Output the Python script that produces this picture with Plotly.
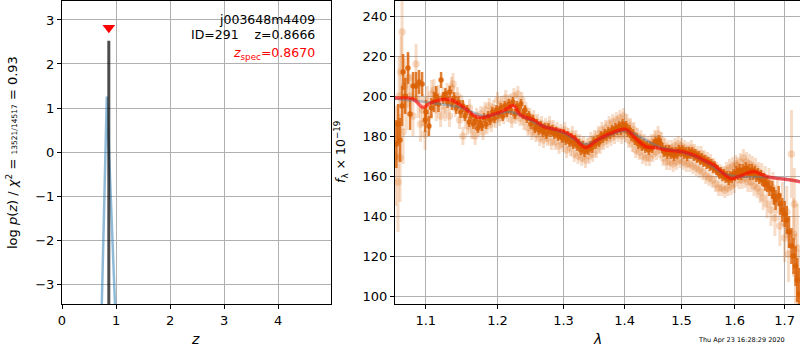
import plotly.graph_objects as go
import math

# ---------------- left panel: redshift PDF ----------------
pz_z = [0.70, 0.83, 1.00]
pz_logp = [-5.3, 1.26, -4.05]
spike_z = [0.8666, 0.8666]
spike_logp = [-6.0, 2.53]
zspec = 0.8670
zspec_marker_y = 2.82

# ---------------- right panel: spectrum ----------------
dark_lam = [1.0615, 1.0636, 1.0662, 1.0688, 1.0701, 1.0730, 1.0765, 1.0792, 1.0832, 1.0871,
            1.0911, 1.0951, 1.0992, 1.1003, 1.1042, 1.1075, 1.1111, 1.1140, 1.1170, 1.1206,
            1.1235, 1.1265, 1.1295, 1.1325, 1.1355, 1.1385, 1.1415, 1.1445, 1.1475, 1.1505,
            1.1535, 1.1565, 1.1595, 1.1625, 1.1655, 1.1685, 1.1715, 1.1745, 1.1775, 1.1805,
            1.1835, 1.1865, 1.1895, 1.1925, 1.1955, 1.1985, 1.2015, 1.2045, 1.2075, 1.2105,
            1.2135, 1.2165, 1.2195, 1.2225, 1.2255, 1.2285, 1.2315, 1.2345, 1.2375, 1.2405,
            1.2435, 1.2465, 1.2495, 1.2525, 1.2555, 1.2585, 1.2615, 1.2645, 1.2675, 1.2705,
            1.2735, 1.2765, 1.2795, 1.2825, 1.2855, 1.2885, 1.2915, 1.2945, 1.2975, 1.3005,
            1.3035, 1.3065, 1.3095, 1.3125, 1.3155, 1.3185, 1.3215, 1.3245, 1.3275, 1.3305,
            1.3335, 1.3365, 1.3395, 1.3425, 1.3455, 1.3485, 1.3515, 1.3545, 1.3575, 1.3605,
            1.3635, 1.3665, 1.3695, 1.3725, 1.3755, 1.3785, 1.3815, 1.3845, 1.3875, 1.3905,
            1.3935, 1.3965, 1.3995, 1.4025, 1.4055, 1.4085, 1.4115, 1.4145, 1.4175, 1.4205,
            1.4235, 1.4265, 1.4295, 1.4325, 1.4355, 1.4385, 1.4415, 1.4445, 1.4475, 1.4505,
            1.4535, 1.4565, 1.4595, 1.4625, 1.4655, 1.4685, 1.4715, 1.4745, 1.4775, 1.4805,
            1.4835, 1.4865, 1.4895, 1.4925, 1.4955, 1.4985, 1.5015, 1.5045, 1.5075, 1.5105,
            1.5135, 1.5165, 1.5195, 1.5225, 1.5255, 1.5285, 1.5315, 1.5345, 1.5375, 1.5405,
            1.5435, 1.5465, 1.5495, 1.5525, 1.5555, 1.5585, 1.5615, 1.5645, 1.5675, 1.5705,
            1.5735, 1.5765, 1.5795, 1.5825, 1.5855, 1.5885, 1.5915, 1.5945, 1.5975, 1.6005,
            1.6035, 1.6065, 1.6095, 1.6125, 1.6155, 1.6185, 1.6215, 1.6245, 1.6275, 1.6305,
            1.6335, 1.6365, 1.6395, 1.6425, 1.6455, 1.6485, 1.6515, 1.6545, 1.6575, 1.6605,
            1.6645, 1.6690, 1.6747, 1.6780, 1.6814, 1.6876, 1.6910, 1.6952, 1.7000, 1.7043,
            1.7090, 1.7140, 1.7182, 1.7226, 1.7261, 1.7299]
dark_flux = [176, 186, 178, 195, 212, 200, 214, 191, 205, 205,
             207, 206, 188, 192, 185, 194, 197, 200, 196, 208,
             199, 201, 197, 202, 196, 199, 194, 197, 192, 195,
             190, 193, 187, 190, 186, 188, 184, 187, 185, 189,
             186, 190, 188, 192, 189, 193, 191, 194, 190, 195,
             192, 196, 193, 197, 191, 195, 193, 196, 191, 193,
             189, 190, 186, 188, 184, 186, 183, 185, 182, 184,
             181, 184, 182, 183, 181, 182, 180, 181, 179, 181,
             178, 180, 177, 179, 176, 178, 175, 176, 173, 175,
             172, 174, 173, 175, 174, 177, 176, 178, 177, 180,
             179, 181, 180, 182, 181, 183, 182, 184, 183, 185,
             183, 186, 184, 185, 182, 183, 180, 181, 178, 179,
             176, 177, 175, 176, 174, 175, 173, 175, 174, 176,
             177, 176, 178, 176, 174, 172, 173, 171, 173, 171,
             172, 170, 172, 171, 173, 172, 173, 171, 172, 170,
             172, 171, 172, 170, 171, 169, 170, 168, 169, 167,
             168, 166, 167, 165, 166, 164, 165, 163, 163, 161,
             162, 160, 161, 159, 160, 158, 160, 159, 161, 160,
             162, 161, 163, 161, 163, 162, 164, 162, 163, 161,
             163, 161, 162, 160, 161, 159, 160, 158, 158, 156,
             156, 154, 153, 150, 148, 150, 146, 143, 141, 138,
             132, 125, 120, 115, 108, 101]
dark_err = [12, 10, 11, 10, 9, 9, 8, 8, 7, 7,
            6, 6, 6, 6, 5, 5, 5, 5, 4, 4,
            3, 3, 3, 3, 3, 3, 3, 3, 3, 3,
            2.5, 2.5, 2.5, 2.5, 2.5, 2.5, 2.5, 2.5, 2.5, 2.5,
            2.5, 2.5, 2.5, 2.5, 2.5, 2.5, 2.5, 2.5, 2.5, 2.5,
            2.5, 2.5, 2.5, 2.5, 2.5, 2.5, 2.5, 2.5, 2.5, 2.5,
            2.5, 2.5, 2.5, 2.5, 2.5, 2.5, 2.5, 2.5, 2.5, 2.5,
            2.5, 2.5, 2.5, 2.5, 2.5, 2.5, 2.5, 2.5, 2.5, 2.5,
            2.5, 2.5, 2.5, 2.5, 2.5, 2.5, 2.5, 2.5, 2.5, 2.5,
            2.5, 2.5, 2.5, 2.5, 2.5, 2.5, 2.5, 2.5, 2.5, 2.5,
            2.5, 2.5, 2.5, 2.5, 2.5, 2.5, 2.5, 2.5, 2.5, 2.5,
            2.5, 2.5, 2.5, 2.5, 2.5, 2.5, 2.5, 2.5, 2.5, 2.5,
            2.5, 2.5, 2.5, 2.5, 2.5, 2.5, 2.5, 2.5, 2.5, 2.5,
            2.5, 2.5, 2.5, 2.5, 2.5, 2.5, 2.5, 2.5, 2.5, 2.5,
            2.5, 2.5, 2.5, 2.5, 2.5, 2.5, 2.5, 2.5, 2.5, 2.5,
            2.5, 2.5, 2.5, 2.5, 2.5, 2.5, 2.5, 2.5, 2.5, 2.5,
            2.5, 2.5, 2.5, 2.5, 2.5, 2.5, 2.5, 2.5, 2.5, 2.5,
            2.5, 2.5, 2.5, 2.5, 2.5, 2.5, 2.5, 2.5, 2.5, 2.5,
            3, 3, 3, 3, 3, 3, 3, 3, 3, 3,
            3, 3, 3, 3, 3, 3, 3, 3, 3.5, 3.5,
            4, 4, 4.5, 4.5, 5, 5, 5.5, 6, 6.5, 7,
            8, 9, 9, 10, 11, 13]

light_lam = [1.0605, 1.0636, 1.0650, 1.0662, 1.0675, 1.0688, 1.0701, 1.0720, 1.0745, 1.0770,
             1.0800, 1.0830, 1.0871, 1.0900, 1.0930, 1.0960, 1.0990, 1.1020, 1.1050, 1.1080,
             1.1111, 1.1140, 1.1170, 1.1200, 1.1230, 1.1260, 1.1290, 1.1320, 1.1350, 1.1370,
             1.1400, 1.1430, 1.1460, 1.1490, 1.1508, 1.1540, 1.1570, 1.1600, 1.1630, 1.1678,
             1.1700, 1.1730, 1.1760, 1.1790, 1.1820, 1.1850, 1.1880, 1.1910, 1.1940, 1.1970,
             1.2000, 1.2030, 1.2060, 1.2090, 1.2120, 1.2150, 1.2180, 1.2210, 1.2240, 1.2270,
             1.2300, 1.2330, 1.2360, 1.2390, 1.2420, 1.2450, 1.2480, 1.2510, 1.2540, 1.2570,
             1.2600, 1.2630, 1.2660, 1.2690, 1.2720, 1.2750, 1.2780, 1.2810, 1.2840, 1.2870,
             1.2900, 1.2930, 1.2960, 1.2990, 1.3020, 1.3050, 1.3080, 1.3110, 1.3140, 1.3170,
             1.3200, 1.3230, 1.3260, 1.3290, 1.3320, 1.3350, 1.3380, 1.3410, 1.3440, 1.3470,
             1.3500, 1.3530, 1.3560, 1.3590, 1.3620, 1.3650, 1.3680, 1.3710, 1.3740, 1.3770,
             1.3800, 1.3830, 1.3860, 1.3890, 1.3920, 1.3950, 1.3980, 1.4010, 1.4040, 1.4070,
             1.4100, 1.4130, 1.4160, 1.4190, 1.4220, 1.4250, 1.4280, 1.4310, 1.4340, 1.4370,
             1.4400, 1.4430, 1.4460, 1.4490, 1.4520, 1.4550, 1.4580, 1.4610, 1.4640, 1.4670,
             1.4700, 1.4730, 1.4760, 1.4790, 1.4820, 1.4850, 1.4880, 1.4910, 1.4940, 1.4970,
             1.5000, 1.5030, 1.5060, 1.5090, 1.5120, 1.5150, 1.5180, 1.5210, 1.5240, 1.5270,
             1.5300, 1.5330, 1.5360, 1.5390, 1.5420, 1.5450, 1.5480, 1.5510, 1.5540, 1.5570,
             1.5600, 1.5630, 1.5660, 1.5690, 1.5720, 1.5750, 1.5780, 1.5810, 1.5840, 1.5870,
             1.5900, 1.5930, 1.5960, 1.5990, 1.6020, 1.6049, 1.6080, 1.6110, 1.6140, 1.6170,
             1.6200, 1.6230, 1.6260, 1.6290, 1.6320, 1.6350, 1.6380, 1.6410, 1.6440, 1.6470,
             1.6500, 1.6530, 1.6560, 1.6600, 1.6640, 1.6680, 1.6720, 1.6760, 1.6800, 1.6850,
             1.6900, 1.6952, 1.7000, 1.7043, 1.7080, 1.7140, 1.7182, 1.7200, 1.7226, 1.7261,
             1.7299]
light_flux = [170, 157, 200, 169, 212, 232, 182, 205, 196, 209,
              200, 190, 216, 198, 186, 193, 181, 198, 190, 201,
              203, 193, 200, 190, 199, 193, 201, 190, 204, 206,
              194, 200, 188, 196, 180, 191, 185, 194, 183, 180,
              190, 184, 191, 182, 193, 185, 195, 186, 194, 188,
              198, 189, 196, 190, 199, 191, 197, 188, 200, 190,
              201, 189, 198, 187, 193, 184, 190, 182, 189, 181,
              187, 179, 186, 178, 185, 179, 186, 177, 184, 177,
              183, 175, 182, 176, 183, 173, 180, 174, 181, 171,
              179, 170, 177, 169, 176, 168, 175, 170, 178, 171,
              179, 173, 181, 175, 183, 177, 184, 178, 186, 179,
              187, 180, 188, 181, 189, 180, 190, 181, 187, 178,
              185, 176, 183, 173, 180, 172, 179, 170, 177, 169,
              176, 169, 177, 171, 179, 172, 181, 173, 178, 169,
              175, 167, 174, 167, 174, 166, 175, 167, 176, 168,
              175, 167, 174, 166, 173, 166, 174, 165, 172, 164,
              171, 163, 171, 162, 169, 160, 168, 159, 167, 158,
              165, 156, 163, 154, 162, 154, 161, 153, 163, 154,
              164, 155, 165, 156, 166, 165, 158, 167, 158, 169,
              159, 167, 157, 166, 157, 165, 155, 164, 154, 162,
              152, 161, 149, 159, 146, 157, 143, 154, 139, 150,
              135, 146, 129, 142, 121, 171, 131, 146, 111, 124,
              98]
light_err = [25, 25, 20, 22, 18, 18, 16, 14, 13, 12,
             11, 10, 10, 9, 9, 8, 8, 7, 7, 7,
             5.5, 5.5, 5.5, 5.5, 5.5, 5.5, 5.5, 5.5, 5.5, 5.5,
             4.5, 4.5, 4.5, 4.5, 4.5, 4.5, 4.5, 4.5, 4.5, 4.5,
             4, 4, 4, 4, 4, 4, 4, 4, 4, 4,
             4, 4, 4, 4, 4, 4, 4, 4, 4, 4,
             4, 4, 4, 4, 4, 4, 4, 4, 4, 4,
             4, 4, 4, 4, 4, 4, 4, 4, 4, 4,
             4, 4, 4, 4, 4, 4, 4, 4, 4, 4,
             4, 4, 4, 4, 4, 4, 4, 4, 4, 4,
             4, 4, 4, 4, 4, 4, 4, 4, 4, 4,
             4, 4, 4, 4, 4, 4, 4, 4, 4, 4,
             4, 4, 4, 4, 4, 4, 4, 4, 4, 4,
             4, 4, 4, 4, 4, 4, 4, 4, 4, 4,
             4, 4, 4, 4, 4, 4, 4, 4, 4, 4,
             4, 4, 4, 4, 4, 4, 4, 4, 4, 4,
             4, 4, 4, 4, 4, 4, 4, 4, 4, 4,
             4, 4, 4, 4, 4, 4, 4, 4, 4, 4,
             4.5, 4.5, 4.5, 4.5, 4.5, 4.5, 4.5, 4.5, 4.5, 4.5,
             5, 5, 5, 5, 5, 5, 5, 5, 5, 5,
             5.5, 5.5, 6, 6, 7, 7, 8, 8, 9, 9,
             10, 11, 12, 13, 14, 22, 18, 18, 20, 22,
             25]

model_lam = [1.050, 1.060, 1.083, 1.0965, 1.106, 1.123, 1.137, 1.151, 1.169, 1.179,
             1.194, 1.208, 1.2235, 1.2336, 1.2537, 1.269, 1.2796, 1.300, 1.3157, 1.335,
             1.3544, 1.3765, 1.4019, 1.4189, 1.4364, 1.454, 1.4717, 1.502, 1.5266, 1.5409,
             1.5598, 1.5919, 1.6049, 1.6377, 1.6511, 1.6712, 1.7058, 1.7299, 1.740]
model_flux = [199, 199, 198.5, 194.3, 196.5, 198.3, 197.7, 194.5, 189.7, 189.3,
              190.8, 192.5, 195.2, 190.5, 188, 184.7, 183.8, 182.2, 179.5, 174.3,
              178, 181.3, 183.3, 178.8, 174.7, 174.2, 173, 172.2, 170, 168,
              165.5, 158.8, 159.5, 162.2, 161, 159.3, 158.3, 157.2, 156.8]

cont_lam = [1.05, 1.10, 1.15, 1.18, 1.22, 1.26, 1.30, 1.335, 1.37, 1.40,
            1.43, 1.46, 1.50, 1.54, 1.58, 1.62, 1.66, 1.70, 1.74]
cont_flux = [199, 197, 194, 190, 192, 186, 181.5, 176, 180, 182.5,
             179, 174.5, 172, 168, 161, 159.5, 159.5, 158.5, 157]

lam_ticks = [1.1, 1.2, 1.3, 1.4, 1.5, 1.6, 1.7]
flux_ticks = [100, 120, 140, 160, 180, 200, 220, 240]
z_ticks = [0, 1, 2, 3, 4]
logp_ticks = [-3, -2, -1, 0, 1, 2, 3]

ORANGE = "217,95,2"
FONT = "DejaVu Sans"
GRID = "#b0b0b0"

fig = go.Figure()

# left panel
fig.add_trace(go.Scatter(x=pz_z, y=pz_logp, mode="lines",
                         line=dict(color="rgba(31,119,180,0.5)", width=2.5),
                         xaxis="x", yaxis="y", showlegend=False))
fig.add_trace(go.Scatter(x=spike_z, y=spike_logp, mode="lines",
                         line=dict(color="rgba(0,0,0,0.7)", width=3),
                         xaxis="x", yaxis="y", showlegend=False))
fig.add_trace(go.Scatter(x=[zspec], y=[zspec_marker_y], mode="markers",
                         marker=dict(symbol="triangle-down", color="red", size=11),
                         xaxis="x", yaxis="y", showlegend=False))

# right panel
fig.add_trace(go.Scatter(x=light_lam, y=light_flux, mode="markers",
                         marker=dict(color=f"rgba({ORANGE},0.22)", size=7.5),
                         error_y=dict(type="data", array=light_err, visible=True,
                                      color=f"rgba({ORANGE},0.22)", thickness=3, width=0),
                         xaxis="x2", yaxis="y2", showlegend=False))
fig.add_trace(go.Scatter(x=dark_lam, y=dark_flux, mode="markers",
                         marker=dict(color=f"rgba({ORANGE},0.85)", size=5.5),
                         error_y=dict(type="data", array=dark_err, visible=True,
                                      color=f"rgba({ORANGE},0.8)", thickness=2.5, width=0),
                         xaxis="x2", yaxis="y2", showlegend=False))
fig.add_trace(go.Scatter(x=cont_lam, y=cont_flux, mode="lines", line_shape="spline",
                         line=dict(color="rgba(70,130,180,0.4)", width=2.5),
                         xaxis="x2", yaxis="y2", showlegend=False))
fig.add_trace(go.Scatter(x=model_lam, y=model_flux, mode="lines", line_shape="spline",
                         line=dict(color="rgba(255,0,0,0.6)", width=3.5),
                         xaxis="x2", yaxis="y2", showlegend=False))

axis_common = dict(showline=True, linecolor="black", linewidth=1, mirror=True,
                   ticks="outside", ticklen=4, tickcolor="black", automargin=False,
                   showgrid=True, gridcolor=GRID, gridwidth=1, zeroline=False,
                   tickfont=dict(family=FONT, size=13, color="black"))

left_dom = [0, 269 / 738]
right_dom = [333 / 738, 1]
PH = 303.0
PW = 738.0


def px_x(p):
    return (p - 62) / PW


def px_y(q):
    return (304 - q) / PH


fig.update_layout(
    width=800, height=350,
    margin=dict(l=62, r=0, t=1, b=46),
    paper_bgcolor="white", plot_bgcolor="white",
    font=dict(family=FONT, size=13, color="black"),
    xaxis=dict(domain=left_dom, range=[0, 4.98], tickvals=z_ticks,
               anchor="y", **axis_common),
    yaxis=dict(domain=[0, 1], range=[-3.45, 3.43], tickvals=logp_ticks,
               ticktext=["\u22123", "\u22122", "\u22121", "0", "1", "2", "3"],
               anchor="x", **axis_common),
    xaxis2=dict(domain=right_dom, type="log",
                range=[math.log10(1.0597), math.log10(1.7319)],
                tickvals=lam_ticks, ticktext=[str(v) for v in lam_ticks],
                anchor="y2", **axis_common),
    yaxis2=dict(domain=[0, 1], range=[96, 247.5], tickvals=flux_ticks,
                anchor="x2", **axis_common),
    annotations=[
        dict(text="j003648m4409", x=4.72, y=3.02, xref="x", yref="y",
             xanchor="right", yanchor="middle", showarrow=False,
             font=dict(family=FONT, size=12.5, color="black")),
        dict(text="ID=291\u00a0\u00a0\u00a0\u00a0z=0.8666", x=4.72, y=2.66, xref="x", yref="y",
             xanchor="right", yanchor="middle", showarrow=False,
             font=dict(family=FONT, size=12.5, color="black")),
        dict(text="<i>z</i><sub>spec</sub>=0.8670", x=4.72, y=2.23, xref="x", yref="y",
             xanchor="right", yanchor="middle", showarrow=False,
             font=dict(family=FONT, size=12.5, color="red")),
        # axis titles
        dict(text="<i>z</i>", x=px_x(195), y=px_y(339), xref="paper", yref="paper",
             xanchor="center", yanchor="middle", showarrow=False,
             font=dict(family=FONT, size=14, color="black")),
        dict(text="<i>\u03bb</i>", x=px_x(597), y=px_y(339), xref="paper", yref="paper",
             xanchor="center", yanchor="middle", showarrow=False,
             font=dict(family=FONT, size=14, color="black")),
        dict(text="log <i>p</i>(<i>z</i>) / <i>\u03c7</i><sup>2</sup> = "
                  "<span style='font-size:7.5px'>13521/14517</span> = 0.93",
             x=px_x(12), y=px_y(153), xref="paper", yref="paper", textangle=-90,
             xanchor="center", yanchor="middle", showarrow=False,
             font=dict(family=FONT, size=13, color="black")),
        dict(text="<i>f</i><sub>\u03bb</sub> \u00d7 10<sup>\u221219</sup>",
             x=px_x(341), y=px_y(152), xref="paper", yref="paper", textangle=-90,
             xanchor="center", yanchor="middle", showarrow=False,
             font=dict(family=FONT, size=12.5, color="black")),
        dict(text="Thu Apr 23 16:28:29 2020", x=px_x(787), y=px_y(340),
             xref="paper", yref="paper", xanchor="right", yanchor="middle",
             showarrow=False, font=dict(family=FONT, size=6.5, color="black")),
    ],
)

fig.write_html("out.html", config={"displayModeBar": False},
               post_script="document.body.style.margin='0';document.body.style.padding='0';")
